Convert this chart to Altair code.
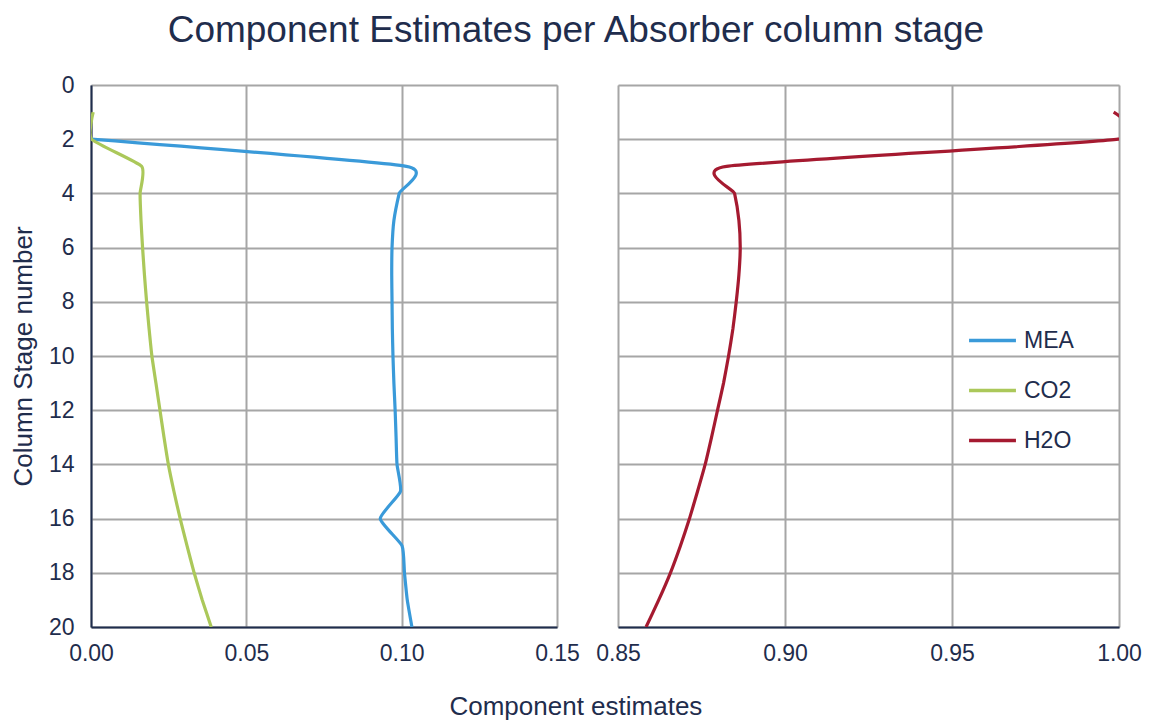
import altair as alt
import pandas as pd

# ---- data ----
stage = list(range(1, 21))
mea = [None, 0.0000, 0.1015, 0.0992, 0.0975, 0.0969, 0.0968, 0.0969, 0.0970, 0.0972,
       0.0975, 0.0979, 0.0982, 0.0985, 0.0996, 0.0931, 0.1001, 0.1009, 0.1018, 0.1033]
co2 = [0.0007, 0.0002, 0.0163, 0.0158, 0.0161, 0.0166, 0.0172, 0.0179, 0.0187, 0.0196,
       0.0209, 0.0222, 0.0235, 0.0249, 0.0267, 0.0287, 0.0309, 0.0332, 0.0358, 0.0387]
h2o = [0.9984, 0.9997, 0.8825, 0.8849, 0.8862, 0.8866, 0.8862, 0.8854, 0.8844, 0.8831,
       0.8816, 0.8798, 0.8780, 0.8761, 0.8738, 0.8714, 0.8687, 0.8657, 0.8622, 0.8584]

series = ["MEA", "CO2", "H2O"]
colors = ["#3A9AD9", "#ABC85A", "#A51A30"]
y_ticks = list(range(0, 21, 2))
left_ticks = [0.00, 0.05, 0.10, 0.15]
right_ticks = [0.85, 0.90, 0.95, 1.00]

rows = []
for name, vals in zip(series, [mea, co2, h2o]):
    for s, v in zip(stage, vals):
        if v is not None:
            rows.append({"series": name, "stage": s, "value": v})
df = pd.DataFrame(rows)

TEXT = "#1F2D4D"
GRID = "#A6A6A6"
FONT = "Liberation Sans"
TICK_FS = 23

color = alt.Color(
    "series:N",
    scale=alt.Scale(domain=series, range=colors),
    legend=alt.Legend(
        title=None, orient="none", legendX=876, legendY=230,
        symbolType="stroke", symbolSize=2200, symbolStrokeWidth=3.5,
        labelFontSize=23, labelColor=TEXT, labelFont=FONT,
        rowPadding=12, labelOffset=6,
    ),
)

y_left = alt.Y(
    "stage:Q",
    scale=alt.Scale(domain=[0, 20], reverse=True, nice=False),
    axis=alt.Axis(values=y_ticks, title="Column Stage number", titleFontSize=26,
                  titleColor=TEXT, titleFont=FONT, titleFontWeight="normal",
                  labelFontSize=TICK_FS, labelColor=TEXT, labelFont=FONT, labelPadding=17,
                  titlePadding=12, ticks=False, domainColor=TEXT, domainWidth=2,
                  gridColor=GRID, gridWidth=2),
)
y_right = alt.Y(
    "stage:Q",
    scale=alt.Scale(domain=[0, 20], reverse=True, nice=False),
    axis=alt.Axis(values=y_ticks, title=None, labels=False, ticks=False, domain=False,
                  gridColor=GRID, gridWidth=2),
)


def xaxis(vals):
    return alt.Axis(values=vals, format=".2f", title=None, labelFontSize=TICK_FS,
                    labelColor=TEXT, labelFont=FONT, labelPadding=15, ticks=False,
                    domainColor=TEXT, domainWidth=2, gridColor=GRID, gridWidth=2,
                    labelFlush=False)


base_line = dict(strokeWidth=3.2, interpolate="cardinal", tension=0.5, clip=True)

left = alt.Chart(df).transform_filter(
    alt.FieldOneOfPredicate(field="series", oneOf=["MEA", "CO2"])
).mark_line(**base_line).encode(
    x=alt.X("value:Q", scale=alt.Scale(domain=[0, 0.15], nice=False), axis=xaxis(left_ticks)),
    y=y_left,
    color=color,
    order=alt.Order("stage:Q"),
).properties(width=466, height=542)

right = alt.Chart(df).transform_filter(
    alt.FieldEqualPredicate(field="series", equal="H2O")
).mark_line(**base_line).encode(
    x=alt.X("value:Q", scale=alt.Scale(domain=[0.85, 1.0], nice=False, zero=False),
            axis=xaxis(right_ticks)),
    y=y_right,
    color=color,
    order=alt.Order("stage:Q"),
).properties(width=501, height=542)

inner = alt.hconcat(left, right, spacing=15).properties(
    title=alt.Title("Component estimates", orient="bottom", anchor="middle", fontSize=26,
                    color=TEXT, font=FONT, fontWeight="normal", offset=28)
)

chart = alt.vconcat(inner).properties(
    title=alt.Title("Component Estimates per Absorber column stage", fontSize=37,
                    color=TEXT, font=FONT, fontWeight="normal", anchor="middle", offset=24),
    padding={"left": 1, "top": 3, "right": 0, "bottom": 0},
).configure_view(stroke=GRID, strokeWidth=2).configure(background="white")

chart.save("out.html", embed_options={"renderer": "svg", "actions": False})
